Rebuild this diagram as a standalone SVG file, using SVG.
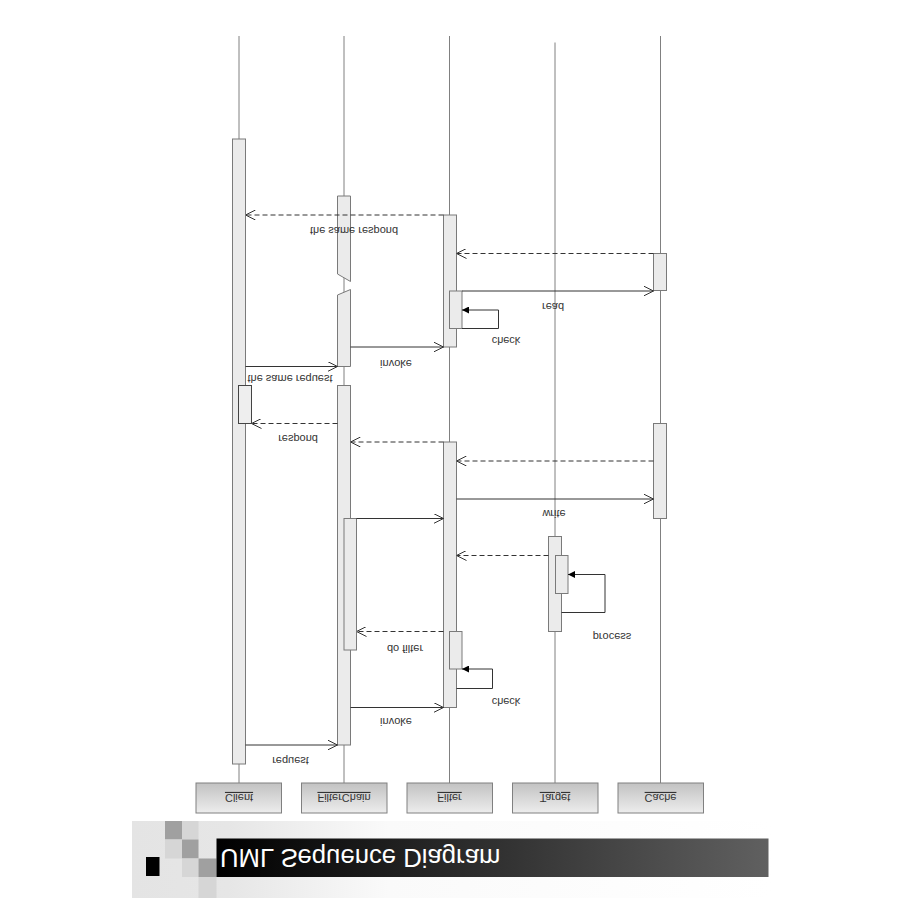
<svg xmlns="http://www.w3.org/2000/svg" width="900" height="900" viewBox="0 0 900 900">
<style>
.life{stroke:#808080;stroke-width:1;fill:none}
.bar{fill:#ebebeb;stroke:#7a7a7a;stroke-width:1}
.msg{stroke:#333;stroke-width:1;fill:none}
.dash{stroke-dasharray:5,3}
.lbl{font-family:"Liberation Sans",Arial,sans-serif;font-size:11px;fill:#333;text-anchor:middle}
.nm{font-family:"Liberation Sans",Arial,sans-serif;font-size:11px;fill:#333;text-anchor:middle;text-decoration:underline}
.box{fill:url(#boxg);stroke:#808080;stroke-width:1}
</style>
<defs>
<marker id="open" viewBox="0 0 10 10" refX="10" refY="5" markerWidth="10" markerHeight="10" markerUnits="userSpaceOnUse" orient="auto"><path d="M0,0 L10,5 L0,10" fill="none" stroke="#333" stroke-width="1"/></marker>
<marker id="fill" viewBox="0 0 6 6" refX="6" refY="3" markerWidth="7" markerHeight="7" markerUnits="userSpaceOnUse" orient="auto"><path d="M0,0 L6,3 L0,6z" fill="#000"/></marker>
<linearGradient id="boxg" x1="0" y1="0" x2="0" y2="1"><stop offset="0" stop-color="#c2c2c2"/><stop offset="1" stop-color="#ededed"/></linearGradient>
<linearGradient id="barg" x1="0" y1="0" x2="1" y2="0"><stop offset="0" stop-color="#000"/><stop offset="1" stop-color="#606060"/></linearGradient>
<linearGradient id="bgg" x1="0" y1="0" x2="1" y2="0"><stop offset="0" stop-color="#e4e4e4"/><stop offset="0.15" stop-color="#e6e6e6"/><stop offset="0.4" stop-color="#fafafa"/><stop offset="1" stop-color="#ffffff"/></linearGradient>
</defs>
<rect width="900" height="900" fill="#fff"/>

<g id="title">
<rect x="132" y="821" width="640" height="77" fill="url(#bgg)"/>
<rect x="165" y="821" width="17" height="18.5" fill="#a0a0a0"/>
<rect x="182" y="821" width="16.5" height="18.5" fill="#d6d6d6"/>
<rect x="165" y="839.5" width="17" height="19" fill="#d6d6d6"/>
<rect x="182" y="839.5" width="16.5" height="19" fill="#a0a0a0"/>
<rect x="182" y="858.5" width="16.5" height="18.5" fill="#d6d6d6"/>
<rect x="198.5" y="858.5" width="18" height="18.5" fill="#a0a0a0"/>
<rect x="198.5" y="877" width="18" height="21" fill="#d6d6d6"/>
<rect x="146" y="857" width="13.5" height="19" fill="#000"/>
<rect x="216.5" y="838.5" width="552" height="38.5" fill="url(#barg)"/>
<text transform="translate(220,849) scale(1,-1)" font-family="Liberation Sans,Arial,sans-serif" font-size="25.7" fill="#fff">UML Sequence Diagram</text>
</g>

<g id="lifelines">
<line class="life" x1="239" y1="36" x2="239" y2="783"/>
<line class="life" x1="344" y1="36" x2="344" y2="783"/>
<line class="life" x1="449.5" y1="36" x2="449.5" y2="783"/>
<line class="life" x1="555" y1="42.5" x2="555" y2="783"/>
<line class="life" x1="660.5" y1="36" x2="660.5" y2="783"/>
</g>

<g id="node-client">
<rect class="bar" x="232.5" y="139" width="13" height="625"/>
<rect x="238.5" y="385.5" width="13" height="38" fill="#eeeeee" stroke="#444" stroke-width="1"/>
<rect class="box" x="196" y="783" width="85.5" height="30"/>
<text class="nm" transform="translate(239,794) scale(1,-1)">Client</text>
</g>

<g id="node-filterchain">
<polygon class="bar" points="337.5,196 350.5,196 350.5,281.5 337.5,274"/>
<polygon class="bar" points="337.5,295 350.5,289.5 350.5,366.5 337.5,366.5"/>
<rect class="bar" x="337.5" y="385.5" width="13" height="359.5"/>
<rect class="bar" x="344" y="518.5" width="12.5" height="131.5"/>
<rect class="box" x="301.5" y="783" width="85.5" height="30"/>
<text class="nm" transform="translate(344,794) scale(1,-1)">FilterChain</text>
</g>

<g id="node-filter">
<rect class="bar" x="443.5" y="215" width="13" height="132"/>
<rect class="bar" x="449.5" y="291" width="12.5" height="37.5"/>
<rect class="bar" x="443.5" y="442" width="13" height="265.5"/>
<rect class="bar" x="449.5" y="631.5" width="12.5" height="37.5"/>
<rect class="box" x="407" y="783" width="85.5" height="30"/>
<text class="nm" transform="translate(449.5,794) scale(1,-1)">Filter</text>
</g>

<g id="node-target">
<rect class="bar" x="548.5" y="536.5" width="13" height="95"/>
<rect class="bar" x="555.5" y="555.5" width="12.5" height="38"/>
<rect class="box" x="512.5" y="783" width="85.5" height="30"/>
<text class="nm" transform="translate(555,794) scale(1,-1)">Target</text>
</g>

<g id="node-cache">
<rect class="bar" x="653.5" y="253.5" width="13" height="37"/>
<rect class="bar" x="653.5" y="423.5" width="13" height="95"/>
<rect class="box" x="618" y="783" width="85.5" height="30"/>
<text class="nm" transform="translate(660.5,794) scale(1,-1)">Cache</text>
</g>

<g id="connectors">
<line class="msg dash" x1="443.5" y1="215" x2="245.5" y2="215" marker-end="url(#open)"/>
<line class="msg dash" x1="653.5" y1="253.5" x2="456.5" y2="253.5" marker-end="url(#open)"/>
<line class="msg" x1="462" y1="291" x2="653.5" y2="291" marker-end="url(#open)"/>
<path class="msg" d="M462,328.5 H498.5 V310 H462" marker-end="url(#fill)"/>
<line class="msg" x1="350.5" y1="347" x2="443.5" y2="347" marker-end="url(#open)"/>
<line class="msg" x1="245.5" y1="366.5" x2="337.5" y2="366.5" marker-end="url(#open)"/>
<line class="msg dash" x1="337.5" y1="423.5" x2="251.5" y2="423.5" marker-end="url(#open)"/>
<line class="msg dash" x1="443.5" y1="442" x2="350.5" y2="442" marker-end="url(#open)"/>
<line class="msg dash" x1="653.5" y1="461" x2="456.5" y2="461" marker-end="url(#open)"/>
<line class="msg" x1="456.5" y1="499" x2="653.5" y2="499" marker-end="url(#open)"/>
<line class="msg" x1="356.5" y1="518.5" x2="443.5" y2="518.5" marker-end="url(#open)"/>
<line class="msg dash" x1="548.5" y1="555.5" x2="456.5" y2="555.5" marker-end="url(#open)"/>
<path class="msg" d="M561.5,612.5 H605 V574.5 H568" marker-end="url(#fill)"/>
<line class="msg dash" x1="443.5" y1="631.5" x2="356.5" y2="631.5" marker-end="url(#open)"/>
<path class="msg" d="M456.5,688.5 H492.5 V669 H462" marker-end="url(#fill)"/>
<line class="msg" x1="350.5" y1="707.5" x2="443.5" y2="707.5" marker-end="url(#open)"/>
<line class="msg" x1="245.5" y1="745" x2="337.5" y2="745" marker-end="url(#open)"/>
</g>

<g id="labels">
<text class="lbl" transform="translate(354,227) scale(1,-1)">the same respond</text>
<text class="lbl" transform="translate(553,303) scale(1,-1)">read</text>
<text class="lbl" transform="translate(506,337) scale(1,-1)">check</text>
<text class="lbl" transform="translate(396,360) scale(1,-1)">invoke</text>
<text class="lbl" transform="translate(290,375) scale(1,-1)">the same request</text>
<text class="lbl" transform="translate(298,435) scale(1,-1)">respond</text>
<text class="lbl" transform="translate(554,510) scale(1,-1)">write</text>
<text class="lbl" transform="translate(612,633) scale(1,-1)">process</text>
<text class="lbl" transform="translate(405,645) scale(1,-1)">do filter</text>
<text class="lbl" transform="translate(506,698) scale(1,-1)">check</text>
<text class="lbl" transform="translate(396,718) scale(1,-1)">invoke</text>
<text class="lbl" transform="translate(290.5,757) scale(1,-1)">request</text>
</g>
</svg>
